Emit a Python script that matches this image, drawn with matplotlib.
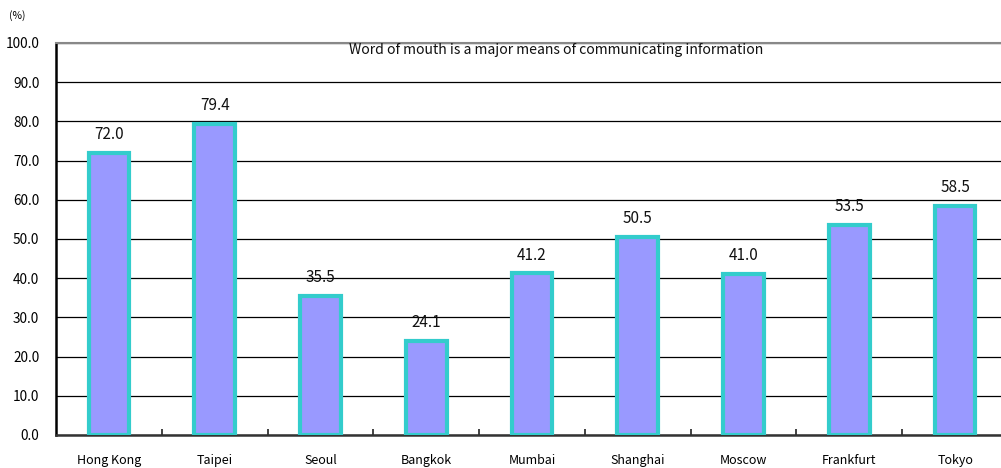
import matplotlib
matplotlib.use("Agg")
import matplotlib.pyplot as plt
import numpy as np

cities = ["Hong Kong", "Taipei", "Seoul", "Bangkok", "Mumbai",
          "Shanghai", "Moscow", "Frankfurt", "Tokyo"]
values = [72.0, 79.4, 35.5, 24.1, 41.2, 50.5, 41.0, 53.5, 58.5]
yticks = [0, 10, 20, 30, 40, 50, 60, 70, 80, 90, 100]
title = "Word of mouth is a major means of communicating information"

plt.rcParams['font.family'] = ['Noto Sans CJK JP', 'DejaVu Sans']

fig = plt.figure(figsize=(10.01, 4.68), dpi=100)
# plot area runs slightly past the right edge of the canvas
ax = fig.add_axes([56 / 1001, 33 / 468, 952 / 1001, 392 / 468])

x = np.arange(len(cities))
ax.bar(x, values, width=0.385, color="#9999FF", edgecolor="#33CCCC",
       linewidth=3, zorder=3)

for xi, v in zip(x, values):
    ax.annotate(f"{v:.1f}", (xi, v), xytext=(0, 13.3), textcoords="offset points",
                ha="center", va="center", fontsize=11, color="#111111", zorder=4)

ax.set_xlim(-0.5, len(cities) - 0.5)
ax.set_ylim(0, 100)
ax.set_yticks(yticks)
ax.set_yticklabels([f"{t:.1f}" for t in yticks], fontsize=9.8)
ax.yaxis.grid(True, color="black", linewidth=0.9, zorder=0)
ax.tick_params(axis="y", length=0, pad=12)

ax.set_xticks(x)
ax.set_xticklabels(cities, fontsize=9)
ax.tick_params(axis="x", length=0, pad=14)
ax.set_xticks(x[:-1] + 0.5, minor=True)
ax.tick_params(axis="x", which="minor", direction="in", length=4, width=1.2,
               color="#222222")

ax.spines["right"].set_visible(False)
ax.spines["top"].set_color("#888888")
ax.spines["top"].set_linewidth(1.5)
ax.spines["left"].set_color("black")
ax.spines["left"].set_linewidth(1.8)
ax.spines["bottom"].set_color("#333333")
ax.spines["bottom"].set_linewidth(1.8)

ax.text((556 - 56) / 952, (435 - 50) / 392, title, transform=ax.transAxes,
        ha="center", va="center", fontsize=10.1, color="#111111")
fig.text(9 / 1001, 1 - 16 / 468, "(%)", ha="left", va="center", fontsize=7.5)

fig.savefig("out.png", dpi=100)
